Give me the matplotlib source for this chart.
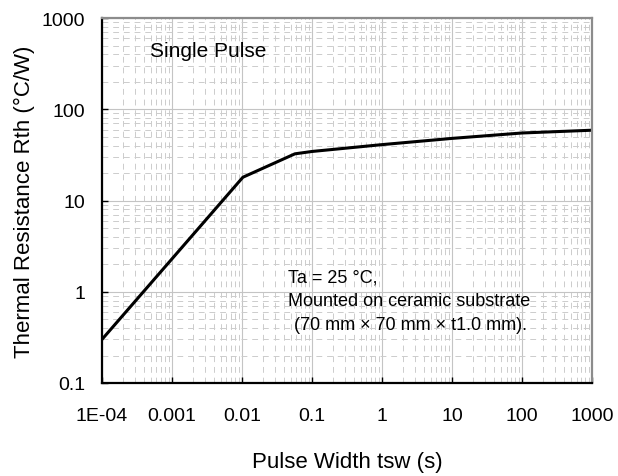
import matplotlib

matplotlib.use("Agg")

import matplotlib.pyplot as plt
from matplotlib.ticker import FixedLocator, FixedFormatter, LogLocator, NullFormatter

# pulse width (s) and thermal resistance (degC/W)
pulse_width = [1e-4, 0.0103, 0.057, 0.1, 1, 10, 100, 1000]
rth = [0.30, 18, 32.5, 34.5, 41, 48, 55, 59]

x_ticks = [1e-4, 1e-3, 1e-2, 1e-1, 1, 10, 100, 1000]
x_labels = ["1E-04", "0.001", "0.01", "0.1", "1", "10", "100", "1000"]
y_ticks = [0.1, 1, 10, 100, 1000]
y_labels = ["0.1", "1", "10", "100", "1000"]

plt.rcParams["font.family"] = ["Liberation Sans", "DejaVu Sans"]

fig = plt.figure(figsize=(6.18, 4.77), dpi=100)
ax = fig.add_axes([0.165, 0.195, 0.793, 0.765])

ax.plot(pulse_width, rth, color="black", linewidth=2.2, solid_joinstyle="round")

ax.set_xscale("log")
ax.set_yscale("log")
ax.set_xlim(1e-4, 1000)
ax.set_ylim(0.1, 1000)

ax.xaxis.set_major_locator(FixedLocator(x_ticks))
ax.xaxis.set_major_formatter(FixedFormatter(x_labels))
ax.yaxis.set_major_locator(FixedLocator(y_ticks))
ax.yaxis.set_major_formatter(FixedFormatter(y_labels))
ax.xaxis.set_minor_locator(LogLocator(base=10, subs=range(2, 10), numticks=20))
ax.yaxis.set_minor_locator(LogLocator(base=10, subs=range(2, 10), numticks=20))
ax.xaxis.set_minor_formatter(NullFormatter())
ax.yaxis.set_minor_formatter(NullFormatter())

ax.grid(which="major", color="#c4c4c4", linewidth=0.8, linestyle="-")
ax.grid(which="minor", color="#cccccc", linewidth=0.7, linestyle=(0, (6, 5)))
ax.set_axisbelow(True)

ax.tick_params(which="major", direction="in", length=4, width=1, labelsize=14, pad=17)
ax.tick_params(axis="y", which="major", pad=12)
ax.tick_params(which="minor", length=0)

for side in ["left", "bottom"]:
    ax.spines[side].set_color("black")
    ax.spines[side].set_linewidth(1.6)
for side in ["top", "right"]:
    ax.spines[side].set_color("#8c8c8c")
    ax.spines[side].set_linewidth(1.6)

ax.set_xlabel("Pulse Width tsw (s)", fontsize=16, labelpad=20)
ax.set_ylabel("Thermal Resistance Rth (\u00b0C/W)", fontsize=16, labelpad=5)

ax.text(0.098, 0.896, "Single Pulse", transform=ax.transAxes, fontsize=15, va="baseline")
ax.text(0.38, 0.277, "Ta = 25 \u00b0C,", transform=ax.transAxes, fontsize=13, va="baseline")
ax.text(0.38, 0.214, "Mounted on ceramic substrate", transform=ax.transAxes, fontsize=13, va="baseline")
ax.text(0.392, 0.148, "(70 mm \u00d7 70 mm \u00d7 t1.0 mm).", transform=ax.transAxes, fontsize=13, va="baseline")

fig.savefig("out.png", dpi=100)
plt.close(fig)
